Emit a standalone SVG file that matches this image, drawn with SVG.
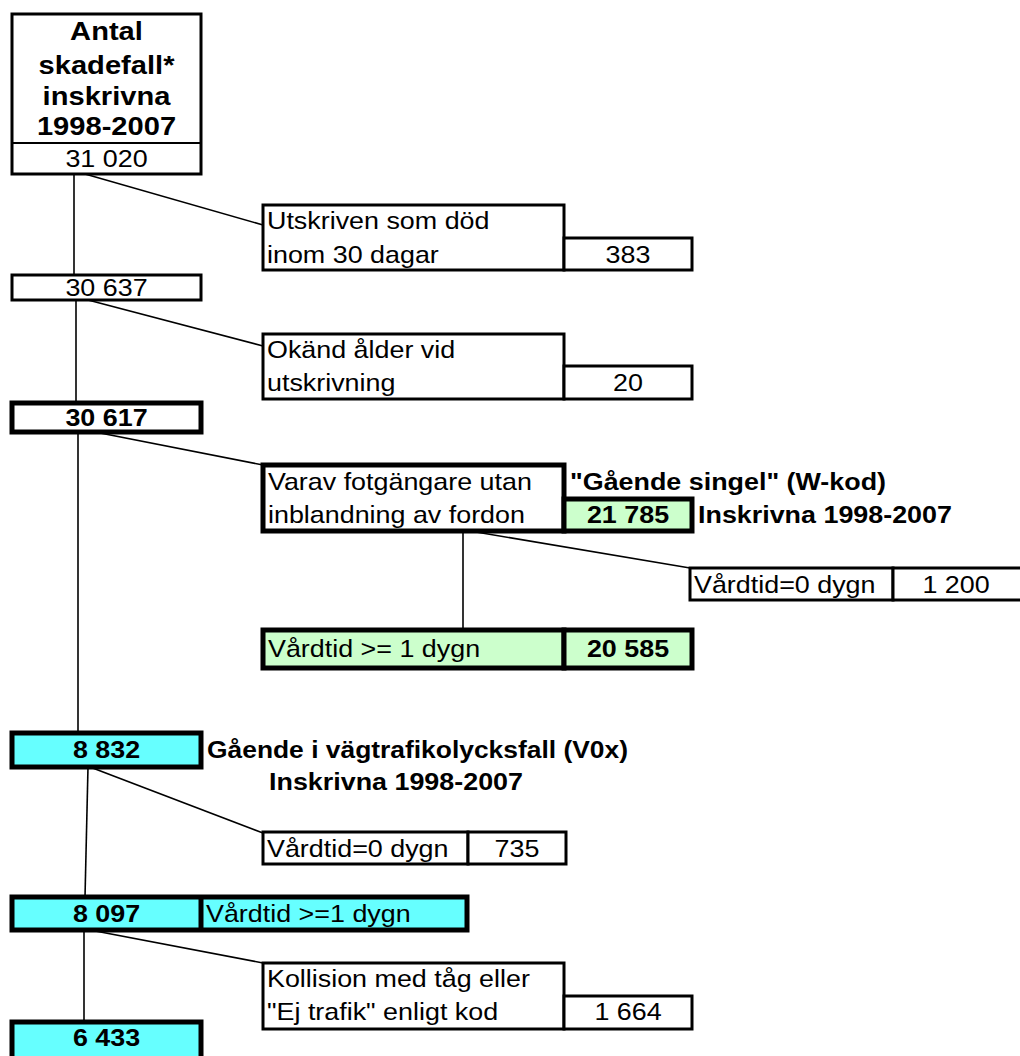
<svg xmlns="http://www.w3.org/2000/svg" width="1020" height="1056" viewBox="0 0 1020 1056">
<style>
text{font-family:"Liberation Sans",Arial,sans-serif;font-size:24px;fill:#000}
.b{font-weight:bold}
.m{text-anchor:middle}
.t{font-size:26px}
.box{fill:#fff;stroke:#000;stroke-width:3}
.thk{stroke-width:5}
.grn{fill:#CCFFCC}
.cyn{fill:#66FFFF}
.con line{stroke:#000;stroke-width:1.6}
</style>
<rect width="1020" height="1056" fill="#fff"/>
<g id="connectors" class="con">
<line x1="74" y1="174" x2="74" y2="275"/>
<line x1="85" y1="174" x2="263" y2="225"/>
<line x1="76" y1="300" x2="76" y2="403"/>
<line x1="88" y1="300" x2="263" y2="346"/>
<line x1="78" y1="432" x2="78" y2="733"/>
<line x1="95" y1="432" x2="263" y2="465"/>
<line x1="463" y1="531" x2="463" y2="630"/>
<line x1="470" y1="531" x2="690" y2="568"/>
<line x1="88" y1="767" x2="85" y2="897"/>
<line x1="90" y1="767" x2="263" y2="833"/>
<line x1="84" y1="930" x2="84" y2="1022"/>
<line x1="90" y1="930" x2="263" y2="963"/>
</g>
<g id="n-total">
<rect class="box" x="12" y="14" width="189" height="160"/>
<line x1="12" y1="143" x2="201" y2="143" stroke="#000" stroke-width="2"/>
<text class="b m t" transform="matrix(1.12 0 0 1 106.5 40)">Antal</text>
<text class="b m t" transform="matrix(1.12 0 0 1 106.5 74)">skadefall*</text>
<text class="b m t" transform="matrix(1.12 0 0 1 106.5 105)">inskrivna</text>
<text class="b m t" transform="matrix(1.12 0 0 1 106.5 135)">1998-2007</text>
<text class="m" transform="matrix(1.12 0 0 1 106.5 167)">31 020</text>
</g>
<g id="n-dead">
<rect class="box" x="263" y="205" width="301" height="65"/>
<rect class="box" x="564" y="238" width="128" height="32"/>
<text transform="matrix(1.12 0 0 1 267 229)">Utskriven som död</text>
<text transform="matrix(1.12 0 0 1 267 263)">inom 30 dagar</text>
<text class="m" transform="matrix(1.12 0 0 1 628 263)">383</text>
</g>
<g id="n-30637">
<rect class="box" x="12" y="275" width="189" height="25"/>
<text class="m" transform="matrix(1.12 0 0 1 106.5 296)">30 637</text>
</g>
<g id="n-unknown">
<rect class="box" x="263" y="334" width="301" height="65"/>
<rect class="box" x="564" y="366" width="128" height="33"/>
<text transform="matrix(1.12 0 0 1 267 358)">Okänd ålder vid</text>
<text transform="matrix(1.12 0 0 1 267 391)">utskrivning</text>
<text class="m" transform="matrix(1.12 0 0 1 628 391)">20</text>
</g>
<g id="n-30617">
<rect class="box thk" x="12" y="403" width="189" height="29"/>
<text class="b m" transform="matrix(1.12 0 0 1 106.5 426)">30 617</text>
</g>
<g id="n-single">
<rect class="box thk" x="263" y="465" width="301" height="66"/>
<rect class="box thk grn" x="564" y="499" width="128" height="32"/>
<text transform="matrix(1.12 0 0 1 268 490)">Varav fotgängare utan</text>
<text transform="matrix(1.12 0 0 1 268 523)">inblandning av fordon</text>
<text class="b m" transform="matrix(1.12 0 0 1 628 523)">21 785</text>
<text class="b" transform="matrix(1.12 0 0 1 570 490)">"Gående singel" (W-kod)</text>
<text class="b" transform="matrix(1.12 0 0 1 698 523)">Inskrivna 1998-2007</text>
</g>
<g id="n-single-0">
<rect class="box" x="690" y="568" width="203" height="32" stroke-width="2"/>
<rect class="box" x="893" y="568" width="130" height="32" stroke-width="2"/>
<text transform="matrix(1.12 0 0 1 694 593)">Vårdtid=0 dygn</text>
<text class="m" transform="matrix(1.12 0 0 1 956 593)">1 200</text>
</g>
<g id="n-single-1">
<rect class="box thk grn" x="263" y="630" width="301" height="38"/>
<rect class="box thk grn" x="564" y="630" width="128" height="38"/>
<text transform="matrix(1.12 0 0 1 268 657)">Vårdtid &gt;= 1 dygn</text>
<text class="b m" transform="matrix(1.12 0 0 1 628 657)">20 585</text>
</g>
<g id="n-8832">
<rect class="box thk cyn" x="12" y="733" width="189" height="34"/>
<text class="b m" transform="matrix(1.12 0 0 1 106.5 758)">8 832</text>
<text class="b" transform="matrix(1.1 0 0 1 207 758)">Gående i vägtrafikolycksfall (V0x)</text>
<text class="b m" transform="matrix(1.12 0 0 1 396 790)">Inskrivna 1998-2007</text>
</g>
<g id="n-road-0">
<rect class="box" x="263" y="832" width="205" height="32" stroke-width="2"/>
<rect class="box" x="468" y="832" width="98" height="32" stroke-width="2"/>
<text transform="matrix(1.12 0 0 1 267 857)">Vårdtid=0 dygn</text>
<text class="m" transform="matrix(1.12 0 0 1 517 857)">735</text>
</g>
<g id="n-8097">
<rect class="box thk cyn" x="12" y="897" width="455" height="33"/>
<line x1="201" y1="897" x2="201" y2="930" stroke="#000" stroke-width="5"/>
<text class="b m" transform="matrix(1.12 0 0 1 106.5 922)">8 097</text>
<text transform="matrix(1.12 0 0 1 206 922)">Vårdtid &gt;=1 dygn</text>
</g>
<g id="n-train">
<rect class="box" x="263" y="963" width="301" height="66"/>
<rect class="box" x="564" y="996" width="128" height="33"/>
<text transform="matrix(1.12 0 0 1 267 987)">Kollision med tåg eller</text>
<text transform="matrix(1.12 0 0 1 267 1020)">"Ej trafik" enligt kod</text>
<text class="m" transform="matrix(1.12 0 0 1 628 1020)">1 664</text>
</g>
<g id="n-6433">
<rect class="box thk cyn" x="12" y="1022" width="189" height="40"/>
<text class="b m" transform="matrix(1.12 0 0 1 106.5 1046)">6 433</text>
</g>
</svg>
